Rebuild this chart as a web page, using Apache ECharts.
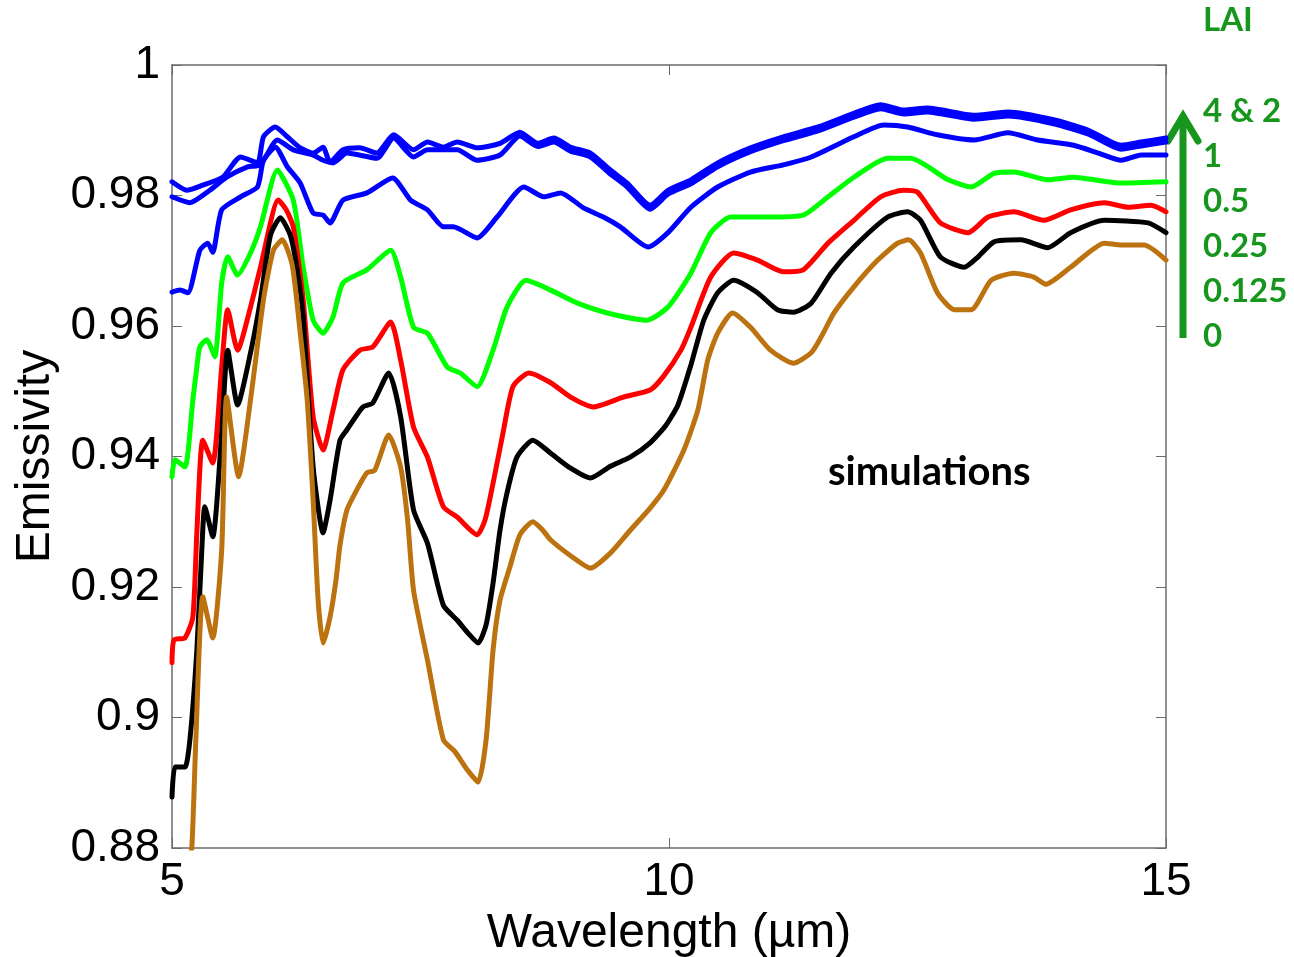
<!DOCTYPE html>
<html>
<head>
<meta charset="utf-8">
<title>Emissivity vs wavelength</title>
<script src="https://cdn.jsdelivr.net/npm/echarts@6/dist/echarts.min.js"></script>
<style>
  html, body { margin: 0; padding: 0; background: #fff; }
  #chart { width: 1294px; height: 957px; }
</style>
</head>
<body>
<div id="chart"></div>
<script>
// 数据：[波长 µm, 发射率]，按 LAI 分组
const lai4 = [[5.0,0.9821],[5.15,0.9808],[5.31,0.9816],[5.51,0.9828],[5.69,0.9859],[5.86,0.985],[5.92,0.989],[6.04,0.9905],[6.16,0.989],[6.29,0.9873],[6.42,0.9865],[6.52,0.9874],[6.59,0.9851],[6.72,0.987],[6.89,0.9873],[7.06,0.9865],[7.23,0.9893],[7.43,0.987],[7.57,0.9882],[7.73,0.9874],[7.87,0.9882],[8.07,0.9873],[8.3,0.988],[8.5,0.9897],[8.68,0.988],[8.84,0.9888],[9.01,0.9874],[9.21,0.9865],[9.41,0.9839],[9.58,0.9819],[9.81,0.9785],[9.99,0.9808],[10.22,0.9824],[10.49,0.985],[10.82,0.9873],[11.15,0.989],[11.5,0.9905],[11.86,0.9926],[12.13,0.9939],[12.36,0.9931],[12.6,0.9934],[13.07,0.9923],[13.41,0.9928],[13.87,0.9916],[14.22,0.99],[14.55,0.9877],[14.75,0.9882],[15.0,0.9888]]
const lai2 = [[5.0,0.9798],[5.18,0.9789],[5.38,0.9808],[5.55,0.9828],[5.76,0.9844],[5.89,0.9847],[6.06,0.9885],[6.22,0.987],[6.42,0.9862],[6.52,0.9854],[6.62,0.985],[6.76,0.9865],[7.06,0.9857],[7.23,0.9888],[7.43,0.9859],[7.57,0.987],[7.87,0.987],[8.07,0.9854],[8.3,0.9862],[8.5,0.9891],[8.68,0.9875],[8.84,0.9882],[9.01,0.9868],[9.21,0.9859],[9.41,0.9833],[9.58,0.9813],[9.81,0.9779],[9.99,0.9802],[10.22,0.9818],[10.49,0.9844],[10.82,0.9867],[11.15,0.9884],[11.5,0.9899],[11.86,0.992],[12.13,0.9933],[12.36,0.9925],[12.6,0.9928],[13.07,0.9917],[13.41,0.9922],[13.87,0.991],[14.22,0.9894],[14.55,0.9871],[14.75,0.9876],[15.0,0.9882]]
const lai1 = [[5.0,0.9652],[5.08,0.9655],[5.16,0.9651],[5.28,0.9716],[5.36,0.9727],[5.41,0.9713],[5.5,0.9778],[5.69,0.9798],[5.86,0.9813],[5.92,0.9854],[6.04,0.9874],[6.16,0.9844],[6.29,0.9819],[6.42,0.9773],[6.52,0.977],[6.59,0.9758],[6.72,0.9793],[6.96,0.9804],[7.22,0.9827],[7.4,0.9793],[7.57,0.9778],[7.73,0.9752],[7.83,0.9752],[8.07,0.9735],[8.27,0.9767],[8.54,0.9813],[8.74,0.9798],[8.91,0.9804],[9.14,0.9781],[9.34,0.9767],[9.51,0.9752],[9.79,0.9721],[9.99,0.9743],[10.22,0.9782],[10.49,0.9813],[10.82,0.9836],[11.15,0.9847],[11.43,0.9859],[11.86,0.989],[12.16,0.9908],[12.4,0.9905],[12.7,0.9893],[13.07,0.9885],[13.41,0.9896],[13.71,0.9885],[14.07,0.9877],[14.32,0.9865],[14.55,0.9854],[14.75,0.9862],[15.0,0.9862]]
const lai05 = [[5.0,0.9369],[5.03,0.9395],[5.13,0.9384],[5.21,0.9487],[5.25,0.9537],[5.28,0.9568],[5.35,0.9579],[5.43,0.9553],[5.5,0.9666],[5.56,0.9706],[5.66,0.9678],[5.79,0.9712],[5.89,0.9752],[6.06,0.9839],[6.22,0.9793],[6.32,0.969],[6.42,0.9609],[6.52,0.9589],[6.62,0.9614],[6.72,0.9666],[6.96,0.9686],[7.2,0.9716],[7.3,0.9675],[7.43,0.9598],[7.57,0.9589],[7.77,0.9537],[7.9,0.9528],[8.07,0.9507],[8.23,0.9563],[8.37,0.9629],[8.56,0.967],[8.81,0.9655],[9.08,0.9635],[9.38,0.962],[9.78,0.9609],[9.99,0.9629],[10.22,0.9681],[10.42,0.9743],[10.62,0.9767],[10.99,0.9767],[11.35,0.977],[11.6,0.9798],[11.86,0.9828],[12.2,0.9857],[12.43,0.9857],[12.81,0.9824],[13.04,0.9813],[13.27,0.9834],[13.47,0.9836],[13.81,0.9824],[14.07,0.9828],[14.55,0.9819],[15.0,0.9821]]
const lai025 = [[5.0,0.9084],[5.02,0.9119],[5.13,0.9122],[5.21,0.9154],[5.25,0.9283],[5.31,0.9425],[5.41,0.939],[5.5,0.9537],[5.56,0.9625],[5.66,0.9563],[5.79,0.9629],[5.89,0.969],[6.07,0.9793],[6.15,0.9778],[6.22,0.9752],[6.32,0.964],[6.42,0.9461],[6.52,0.941],[6.62,0.9471],[6.72,0.9533],[6.89,0.9563],[7.02,0.9568],[7.2,0.9606],[7.3,0.9548],[7.43,0.9445],[7.57,0.9399],[7.73,0.9323],[7.87,0.9307],[8.07,0.928],[8.15,0.9303],[8.23,0.9359],[8.33,0.9436],[8.43,0.9507],[8.59,0.9528],[8.81,0.9513],[9.01,0.9491],[9.24,0.9476],[9.54,0.9491],[9.81,0.9502],[9.94,0.9522],[10.12,0.9563],[10.22,0.9598],[10.42,0.9675],[10.65,0.9712],[10.89,0.9701],[11.15,0.9683],[11.35,0.9686],[11.6,0.9727],[11.86,0.9762],[12.13,0.9798],[12.36,0.9808],[12.5,0.9805],[12.73,0.9758],[13.01,0.9743],[13.21,0.9767],[13.47,0.9775],[13.77,0.9762],[14.04,0.9778],[14.38,0.9789],[14.62,0.9782],[14.85,0.9785],[15.0,0.9775]]
const lai0125 = [[5.0,0.8878],[5.03,0.8924],[5.13,0.8924],[5.18,0.8966],[5.25,0.9103],[5.3,0.9257],[5.33,0.9323],[5.41,0.9277],[5.5,0.9436],[5.56,0.9563],[5.66,0.9479],[5.79,0.9559],[5.89,0.964],[5.99,0.9739],[6.09,0.9766],[6.19,0.9739],[6.26,0.9686],[6.32,0.9614],[6.42,0.9384],[6.52,0.9283],[6.59,0.9333],[6.69,0.9425],[6.76,0.9441],[6.92,0.9476],[7.02,0.9482],[7.18,0.9528],[7.3,0.9461],[7.43,0.9318],[7.57,0.9267],[7.73,0.9172],[7.87,0.9149],[7.98,0.9129],[8.08,0.9114],[8.16,0.9142],[8.23,0.9206],[8.3,0.9287],[8.37,0.9344],[8.47,0.9399],[8.63,0.9425],[8.81,0.9405],[9.01,0.9382],[9.21,0.9367],[9.41,0.9385],[9.61,0.9399],[9.81,0.9421],[9.97,0.9448],[10.09,0.9479],[10.22,0.954],[10.35,0.9609],[10.49,0.9651],[10.65,0.967],[10.89,0.9651],[11.09,0.9625],[11.25,0.9621],[11.43,0.9635],[11.63,0.9681],[11.86,0.9721],[12.2,0.9767],[12.4,0.9775],[12.53,0.9762],[12.73,0.9706],[12.97,0.969],[13.11,0.9706],[13.27,0.9729],[13.54,0.9732],[13.81,0.972],[14.04,0.9743],[14.38,0.9762],[14.82,0.9758],[15.0,0.9743]]
const lai0 = [[5.16,0.8766],[5.2,0.8802],[5.24,0.8966],[5.31,0.9185],[5.41,0.9122],[5.5,0.9257],[5.55,0.9491],[5.67,0.9369],[5.79,0.9487],[5.92,0.964],[6.02,0.9716],[6.11,0.9732],[6.21,0.9693],[6.29,0.9589],[6.36,0.9487],[6.42,0.9333],[6.47,0.918],[6.52,0.9114],[6.59,0.9154],[6.65,0.9211],[6.69,0.9264],[6.76,0.9318],[6.86,0.9349],[6.96,0.9375],[7.04,0.9379],[7.18,0.9433],[7.3,0.9384],[7.37,0.9303],[7.43,0.9195],[7.57,0.9088],[7.73,0.8966],[7.85,0.8947],[7.97,0.892],[8.08,0.8901],[8.16,0.8966],[8.23,0.9103],[8.3,0.918],[8.4,0.9231],[8.5,0.928],[8.63,0.93],[8.73,0.9287],[8.81,0.9272],[9.01,0.9248],[9.21,0.9229],[9.41,0.9252],[9.61,0.9287],[9.81,0.9321],[9.95,0.9349],[10.15,0.941],[10.29,0.9471],[10.39,0.9548],[10.49,0.9589],[10.64,0.962],[10.82,0.9598],[11.02,0.9563],[11.25,0.9543],[11.43,0.9559],[11.53,0.9583],[11.66,0.962],[11.86,0.966],[12.1,0.9701],[12.3,0.9727],[12.41,0.9732],[12.53,0.9712],[12.7,0.9651],[12.87,0.9625],[13.04,0.9625],[13.24,0.967],[13.47,0.9681],[13.67,0.9675],[13.79,0.9664],[14.04,0.969],[14.38,0.9727],[14.55,0.9724],[14.78,0.9724],[15.0,0.9701]]

// 右侧 LAI 图例文字
const laiLabels = ['4 & 2', '1', '0.5', '0.25', '0.125', '0']

const chart = echarts.init(document.getElementById('chart'))

const frameColor = '#6b6b6b'
const green = '#17961d'
const tickFont = { fontFamily: 'Liberation Sans, Arial, sans-serif', fontSize: 46, color: '#000' }

// 生成一条曲线的配置
const makeLine = (name, data, color) => ({
  name,
  type: 'line',
  data,
  showSymbol: false,
  smooth: 0.2,
  clip: true,
  silent: true,
  lineStyle: { color, width: 5, cap: 'round', join: 'round' }
})

// 图例（箭头 + 文字）
const legendGraphics = laiLabels.map((t, i) => ({
  type: 'text',
  left: 1203,
  top: 114 + i * 45 - 19,
  style: { text: t, fill: green, font: 'bold 33px Lato, "Open Sans", sans-serif' }
}))

const option = {
  animation: false,
  backgroundColor: '#fff',
  grid: { left: 172, top: 65, width: 994, height: 783, containLabel: false, outerBoundsMode: 'none' },
  xAxis: [
    {
      type: 'value',
      min: 5,
      max: 15,
      interval: 5,
      position: 'bottom',
      name: 'Wavelength (µm)',
      nameLocation: 'middle',
      nameGap: 60,
      nameTextStyle: { fontFamily: 'Liberation Sans, Arial, sans-serif', fontSize: 48, color: '#000' },
      axisLine: { show: true, onZero: false, lineStyle: { color: frameColor, width: 1.5 } },
      axisTick: { show: true, inside: true, length: 10, lineStyle: { color: frameColor } },
      axisLabel: { ...tickFont, margin: 11, showMinLabel: true, showMaxLabel: true },
      splitLine: { show: false }
    },
    {
      type: 'value',
      min: 5,
      max: 15,
      interval: 5,
      position: 'top',
      axisLine: { show: true, onZero: false, lineStyle: { color: frameColor, width: 1.5 } },
      axisTick: { show: true, inside: true, length: 10, lineStyle: { color: frameColor } },
      axisLabel: { show: false },
      splitLine: { show: false }
    }
  ],
  yAxis: [
    {
      type: 'value',
      min: 0.88,
      max: 1,
      interval: 0.02,
      position: 'left',
      name: 'Emissivity',
      nameLocation: 'middle',
      nameGap: 112,
      nameTextStyle: { fontFamily: 'Liberation Sans, Arial, sans-serif', fontSize: 48, color: '#000' },
      axisLine: { show: true, onZero: false, lineStyle: { color: frameColor, width: 1.5 } },
      axisTick: { show: true, inside: true, length: 10, lineStyle: { color: frameColor } },
      axisLabel: {
        ...tickFont,
        margin: 12,
        showMinLabel: true,
        showMaxLabel: true,
        formatter: v => String(+v.toFixed(2))
      },
      splitLine: { show: false }
    },
    {
      type: 'value',
      min: 0.88,
      max: 1,
      interval: 0.02,
      position: 'right',
      axisLine: { show: true, onZero: false, lineStyle: { color: frameColor, width: 1.5 } },
      axisTick: { show: true, inside: true, length: 10, lineStyle: { color: frameColor } },
      axisLabel: { show: false },
      splitLine: { show: false }
    }
  ],
  series: [
    makeLine('LAI 4', lai4, '#0000ff'),
    makeLine('LAI 2', lai2, '#0000ff'),
    makeLine('LAI 1', lai1, '#0000ff'),
    makeLine('LAI 0.5', lai05, '#00ff00'),
    makeLine('LAI 0.25', lai025, '#ff0000'),
    makeLine('LAI 0.125', lai0125, '#000000'),
    makeLine('LAI 0', lai0, '#bb720f')
  ],
  graphic: [
    {
      type: 'text',
      left: 828,
      top: 452,
      style: { text: 'simulations', fill: '#000', font: 'bold 40px Lato, "Open Sans", sans-serif' }
    },
    {
      type: 'text',
      left: 1203,
      top: 4,
      style: { text: 'LAI', fill: green, font: 'bold 33px Lato, "Open Sans", sans-serif' }
    },
    {
      type: 'line',
      shape: { x1: 1183, y1: 338, x2: 1183, y2: 118 },
      style: { stroke: green, lineWidth: 7 }
    },
    {
      type: 'polyline',
      shape: { points: [[1168, 141], [1183, 116], [1198, 141]] },
      style: { stroke: green, lineWidth: 7, fill: null, lineJoin: 'miter', lineCap: 'round' }
    },
    ...legendGraphics
  ]
}

chart.setOption(option)
window.addEventListener('resize', () => chart.resize())
</script>
</body>
</html>
